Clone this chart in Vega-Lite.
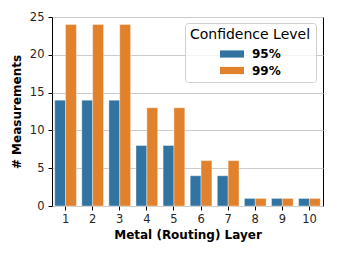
{
  "$schema": "https://vega.github.io/schema/vega-lite/v6.json",
  "autosize": {"type": "none"},
  "padding": {"left": 52, "top": 17, "right": 16, "bottom": 49},
  "width": 271,
  "height": 189,
  "background": "white",
  "config": {
    "font": "DejaVu Sans",
    "view": {"stroke": "black", "strokeWidth": 1},
    "axis": {"labelFont": "DejaVu Sans", "titleFont": "DejaVu Sans", "labelColor": "#262626", "titleColor": "black", "labelFontSize": 11.5, "titleFontSize": 12, "titleFontWeight": "bold", "tickColor": "black", "tickSize": 4, "domain": false}
  },
  "data": {
    "values": [
      {"layer": 1, "level": "95%", "n": 14}, {"layer": 1, "level": "99%", "n": 24},
      {"layer": 2, "level": "95%", "n": 14}, {"layer": 2, "level": "99%", "n": 24},
      {"layer": 3, "level": "95%", "n": 14}, {"layer": 3, "level": "99%", "n": 24},
      {"layer": 4, "level": "95%", "n": 8}, {"layer": 4, "level": "99%", "n": 13},
      {"layer": 5, "level": "95%", "n": 8}, {"layer": 5, "level": "99%", "n": 13},
      {"layer": 6, "level": "95%", "n": 4}, {"layer": 6, "level": "99%", "n": 6},
      {"layer": 7, "level": "95%", "n": 4}, {"layer": 7, "level": "99%", "n": 6},
      {"layer": 8, "level": "95%", "n": 1}, {"layer": 8, "level": "99%", "n": 1},
      {"layer": 9, "level": "95%", "n": 1}, {"layer": 9, "level": "99%", "n": 1},
      {"layer": 10, "level": "95%", "n": 1}, {"layer": 10, "level": "99%", "n": 1}
    ]
  },
  "mark": {"type": "bar", "stroke": "white", "strokeWidth": 0.6, "strokeOpacity": 0.6},
  "encoding": {
    "x": {
      "field": "layer", "type": "ordinal", "title": "Metal (Routing) Layer",
      "scale": {"paddingInner": 0.2, "paddingOuter": 0.1},
      "axis": {"labelAngle": 0, "labelPadding": 3, "titlePadding": 5, "grid": false}
    },
    "xOffset": {"field": "level", "type": "nominal", "scale": {"paddingInner": 0, "paddingOuter": 0}},
    "y": {
      "field": "n", "type": "quantitative", "title": "# Measurements",
      "scale": {"domain": [0, 25], "nice": false},
      "axis": {"values": [0, 5, 10, 15, 20, 25], "grid": true, "gridColor": "#cccccc", "gridWidth": 1, "labelPadding": 4, "titlePadding": 5.5}
    },
    "color": {
      "field": "level", "type": "nominal",
      "scale": {"domain": ["95%", "99%"], "range": ["#3274a1", "#e1812c"]},
      "legend": {
        "title": "Confidence Level",
        "orient": "none", "legendX": 133, "legendY": 6,
        "titleFontSize": 14, "titleFontWeight": "normal", "titleColor": "black", "titleAnchor": "middle", "titlePadding": 6,
        "labelFontSize": 12, "labelFontWeight": "bold", "labelColor": "black",
        "symbolType": "M-2,-0.6L2,-0.6L2,0.6L-2,0.6Z", "symbolSize": 144, "symbolStrokeWidth": 0, "symbolOpacity": 1,
        "symbolOffset": 6,
        "padding": 5, "rowPadding": 4.5, "labelOffset": 14,
        "fillColor": "rgba(255,255,255,0.8)", "strokeColor": "#d0d0d0", "cornerRadius": 3
      }
    }
  }
}
